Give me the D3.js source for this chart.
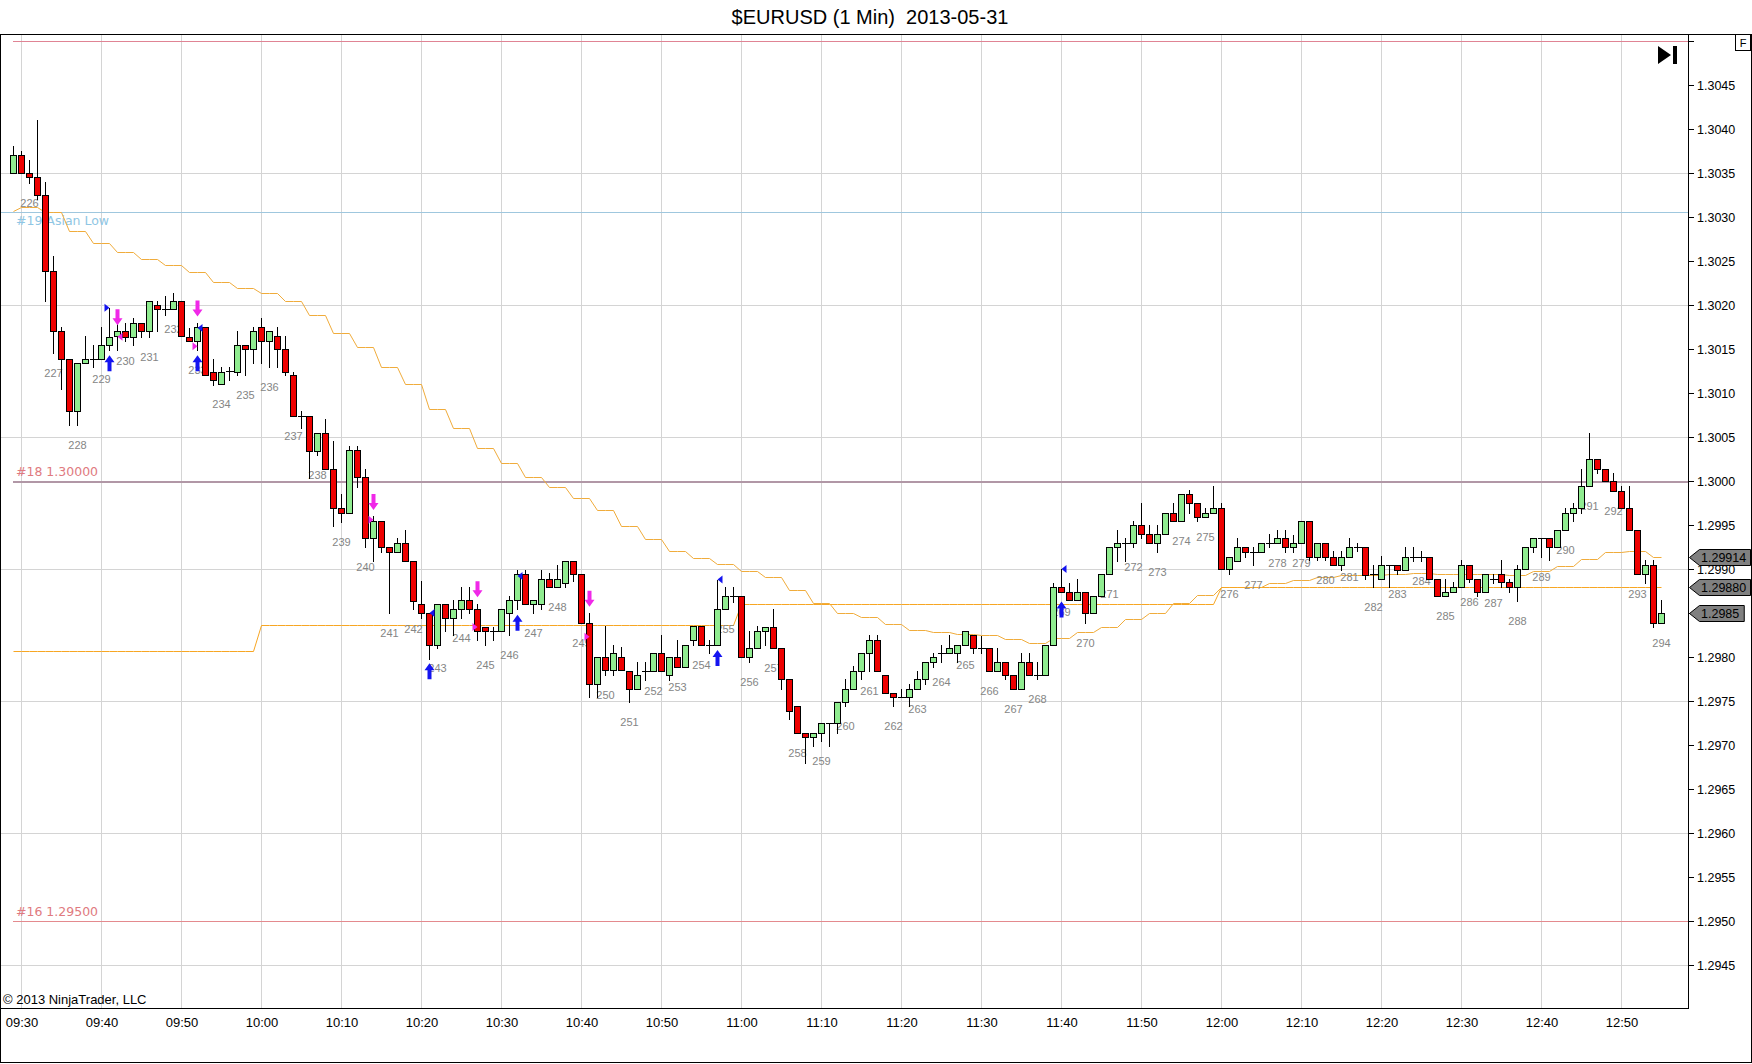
<!DOCTYPE html>
<html>
<head>
<meta charset="utf-8">
<script src="https://cdn.jsdelivr.net/npm/d3@7"></script>
<style>
  body { margin: 0; background: #fff; }
  svg { display: block; }
</style>
</head>
<body>
<div id="chart"></div>
<script>
const width = 1752;
const height = 1064;

// 1 minute bars, 09:29 .. 12:55
const opens = [
  1.30350,1.30370,1.30350,1.30345,1.30325,1.30239,1.30170,1.30139,1.30079,1.30134,
  1.30139,1.30139,1.30154,1.30165,1.30170,1.30164,1.30179,1.30170,1.30200,1.30195,
  1.30195,1.30204,1.30164,1.30159,1.30175,1.30124,1.30110,1.30125,1.30124,1.30155,
  1.30150,1.30175,1.30159,1.30165,1.30150,1.30120,1.30074,1.30074,1.30034,1.30054,
  1.30014,1.29969,1.29964,1.30035,1.30004,1.29935,1.29954,1.29925,1.29919,1.29929,
  1.29909,1.29860,1.29850,1.29814,1.29860,1.29844,1.29854,1.29865,1.29854,1.29834,
  1.29830,1.29830,1.29850,1.29865,1.29894,1.29860,1.29860,1.29889,1.29879,1.29884,
  1.29909,1.29894,1.29839,1.29769,1.29800,1.29785,1.29800,1.29784,1.29764,1.29784,
  1.29784,1.29804,1.29780,1.29800,1.29789,1.29819,1.29835,1.29814,1.29814,1.29854,
  1.29869,1.29869,1.29800,1.29810,1.29829,1.29834,1.29810,1.29775,1.29744,1.29714,
  1.29709,1.29714,1.29725,1.29725,1.29749,1.29764,1.29784,1.29804,1.29819,1.29779,
  1.29759,1.29754,1.29754,1.29764,1.29775,1.29794,1.29804,1.29804,1.29804,1.29814,
  1.29825,1.29810,1.29810,1.29784,1.29794,1.29779,1.29764,1.29794,1.29779,1.29779,
  1.29814,1.29879,1.29874,1.29865,1.29874,1.29850,1.29869,1.29894,1.29925,1.29929,
  1.29929,1.29950,1.29940,1.29929,1.29940,1.29964,1.29955,1.29985,1.29975,1.29959,
  1.29964,1.29969,1.29900,1.29909,1.29925,1.29919,1.29919,1.29929,1.29929,1.29935,
  1.29925,1.29929,1.29954,1.29914,1.29929,1.29914,1.29905,1.29914,1.29925,1.29925,
  1.29894,1.29889,1.29904,1.29904,1.29899,1.29914,1.29914,1.29914,1.29889,1.29869,
  1.29874,1.29879,1.29904,1.29889,1.29874,1.29889,1.29894,1.29885,1.29879,1.29900,
  1.29925,1.29935,1.29935,1.29925,1.29944,1.29964,1.29969,1.29994,1.30025,1.30014,
  1.30000,1.29989,1.29969,1.29944,1.29894,1.29905,1.29839
];
const highs = [
  1.30381,1.30375,1.30365,1.30410,1.30340,1.30256,1.30175,1.30139,1.30134,1.30165,
  1.30155,1.30175,1.30197,1.30183,1.30179,1.30185,1.30179,1.30204,1.30204,1.30210,
  1.30214,1.30204,1.30174,1.30179,1.30175,1.30139,1.30129,1.30130,1.30170,1.30155,
  1.30175,1.30185,1.30170,1.30175,1.30165,1.30124,1.30079,1.30074,1.30054,1.30070,
  1.30045,1.29985,1.30040,1.30040,1.30014,1.29960,1.29954,1.29925,1.29935,1.29944,
  1.29909,1.29886,1.29850,1.29860,1.29860,1.29865,1.29879,1.29879,1.29860,1.29834,
  1.29834,1.29854,1.29869,1.29899,1.29899,1.29865,1.29899,1.29895,1.29905,1.29909,
  1.29909,1.29894,1.29850,1.29800,1.29835,1.29814,1.29811,1.29784,1.29794,1.29794,
  1.29804,1.29825,1.29800,1.29819,1.29814,1.29835,1.29835,1.29819,1.29888,1.29879,
  1.29879,1.29869,1.29830,1.29835,1.29834,1.29854,1.29810,1.29775,1.29744,1.29714,
  1.29714,1.29725,1.29725,1.29749,1.29775,1.29790,1.29804,1.29825,1.29825,1.29779,
  1.29759,1.29764,1.29769,1.29784,1.29794,1.29804,1.29814,1.29825,1.29814,1.29829,
  1.29825,1.29824,1.29810,1.29810,1.29794,1.29779,1.29804,1.29804,1.29794,1.29814,
  1.29884,1.29900,1.29884,1.29889,1.29874,1.29869,1.29894,1.29925,1.29944,1.29935,
  1.29955,1.29975,1.29950,1.29950,1.29964,1.29975,1.29985,1.29990,1.29975,1.29969,
  1.29994,1.29975,1.29914,1.29935,1.29925,1.29925,1.29929,1.29940,1.29944,1.29944,
  1.29939,1.29954,1.29954,1.29929,1.29929,1.29920,1.29920,1.29935,1.29930,1.29925,
  1.29905,1.29915,1.29904,1.29904,1.29925,1.29925,1.29920,1.29914,1.29889,1.29889,
  1.29885,1.29910,1.29904,1.29889,1.29894,1.29894,1.29910,1.29889,1.29905,1.29925,
  1.29935,1.29935,1.29935,1.29944,1.29969,1.29975,1.30014,1.30055,1.30025,1.30014,
  1.30009,1.29994,1.29994,1.29944,1.29910,1.29910,1.29865
];
const lows = [
  1.30350,1.30350,1.30339,1.30320,1.30204,1.30145,1.30104,1.30064,1.30064,1.30134,
  1.30129,1.30139,1.30149,1.30149,1.30159,1.30154,1.30164,1.30164,1.30170,1.30189,
  1.30195,1.30165,1.30159,1.30149,1.30120,1.30109,1.30110,1.30115,1.30120,1.30120,
  1.30134,1.30134,1.30129,1.30129,1.30120,1.30074,1.30060,1.30003,1.30030,1.30014,
  1.29949,1.29953,1.29964,1.29993,1.29925,1.29909,1.29919,1.29850,1.29919,1.29909,
  1.29854,1.29844,1.29798,1.29810,1.29829,1.29825,1.29844,1.29850,1.29819,1.29814,
  1.29819,1.29830,1.29825,1.29854,1.29860,1.29850,1.29854,1.29879,1.29879,1.29879,
  1.29886,1.29839,1.29754,1.29754,1.29780,1.29780,1.29785,1.29749,1.29764,1.29774,
  1.29784,1.29784,1.29774,1.29789,1.29789,1.29814,1.29814,1.29804,1.29814,1.29854,
  1.29863,1.29800,1.29794,1.29810,1.29814,1.29810,1.29764,1.29729,1.29714,1.29679,
  1.29699,1.29705,1.29699,1.29714,1.29744,1.29764,1.29775,1.29784,1.29784,1.29759,
  1.29744,1.29754,1.29744,1.29764,1.29769,1.29789,1.29794,1.29804,1.29794,1.29814,
  1.29804,1.29804,1.29784,1.29784,1.29775,1.29764,1.29764,1.29779,1.29775,1.29779,
  1.29814,1.29874,1.29865,1.29865,1.29839,1.29850,1.29869,1.29894,1.29909,1.29909,
  1.29925,1.29935,1.29929,1.29919,1.29940,1.29955,1.29955,1.29964,1.29955,1.29959,
  1.29964,1.29900,1.29894,1.29909,1.29914,1.29904,1.29919,1.29925,1.29929,1.29919,
  1.29919,1.29929,1.29910,1.29910,1.29910,1.29905,1.29899,1.29914,1.29920,1.29889,
  1.29880,1.29889,1.29880,1.29894,1.29899,1.29909,1.29909,1.29889,1.29869,1.29869,
  1.29874,1.29879,1.29885,1.29869,1.29874,1.29884,1.29880,1.29874,1.29864,1.29900,
  1.29919,1.29914,1.29910,1.29925,1.29944,1.29954,1.29964,1.29994,1.30009,1.30000,
  1.29989,1.29969,1.29944,1.29894,1.29884,1.29834,1.29839
];
const closes = [
  1.30370,1.30350,1.30345,1.30325,1.30239,1.30170,1.30139,1.30079,1.30134,1.30139,
  1.30139,1.30154,1.30164,1.30170,1.30164,1.30179,1.30170,1.30204,1.30195,1.30195,
  1.30204,1.30165,1.30159,1.30175,1.30120,1.30115,1.30124,1.30125,1.30155,1.30150,
  1.30170,1.30159,1.30170,1.30150,1.30124,1.30074,1.30074,1.30034,1.30054,1.30014,
  1.29969,1.29964,1.30035,1.30004,1.29935,1.29954,1.29925,1.29919,1.29929,1.29909,
  1.29864,1.29850,1.29814,1.29860,1.29844,1.29854,1.29865,1.29854,1.29830,1.29830,
  1.29830,1.29854,1.29865,1.29894,1.29860,1.29865,1.29889,1.29879,1.29889,1.29909,
  1.29894,1.29839,1.29769,1.29800,1.29785,1.29804,1.29785,1.29764,1.29780,1.29784,
  1.29804,1.29784,1.29800,1.29789,1.29814,1.29835,1.29814,1.29814,1.29854,1.29869,
  1.29869,1.29800,1.29810,1.29829,1.29834,1.29810,1.29775,1.29739,1.29714,1.29709,
  1.29714,1.29725,1.29725,1.29749,1.29764,1.29784,1.29804,1.29819,1.29784,1.29759,
  1.29754,1.29754,1.29764,1.29775,1.29794,1.29800,1.29804,1.29810,1.29814,1.29829,
  1.29810,1.29810,1.29784,1.29794,1.29779,1.29764,1.29794,1.29779,1.29779,1.29814,
  1.29879,1.29874,1.29865,1.29874,1.29850,1.29869,1.29894,1.29925,1.29929,1.29929,
  1.29950,1.29940,1.29929,1.29940,1.29964,1.29955,1.29985,1.29975,1.29959,1.29964,
  1.29969,1.29900,1.29914,1.29925,1.29919,1.29919,1.29929,1.29929,1.29935,1.29925,
  1.29929,1.29954,1.29914,1.29929,1.29914,1.29905,1.29914,1.29925,1.29925,1.29893,
  1.29894,1.29905,1.29904,1.29899,1.29914,1.29914,1.29914,1.29889,1.29869,1.29874,
  1.29879,1.29904,1.29889,1.29874,1.29894,1.29889,1.29885,1.29879,1.29900,1.29925,
  1.29935,1.29935,1.29925,1.29944,1.29964,1.29969,1.29994,1.30025,1.30014,1.30000,
  1.29989,1.29969,1.29944,1.29894,1.29905,1.29839,1.29850
];

// stepped average: first bar, then one value per 3 bars
const stepLine = [
  1.30307,1.30311,1.30306,1.30284,1.30270,1.30260,1.30252,1.30246,1.30238,1.30226,
  1.30219,1.30214,1.30205,1.30189,1.30168,1.30152,1.30130,1.30110,1.30082,1.30060,
  1.30038,1.30021,1.30005,1.29993,1.29981,1.29967,1.29949,1.29934,1.29920,1.29912,
  1.29906,1.29898,1.29891,1.29876,1.29861,1.29850,1.29846,1.29837,1.29831,1.29828,
  1.29826,1.29825,1.29820,1.29816,1.29822,1.29828,1.29834,1.29843,1.29850,1.29861,
  1.29870,1.29879,1.29880,1.29884,1.29887,1.29891,1.29893,1.29893,1.29894,1.29896,
  1.29894,1.29894,1.29894,1.29893,1.29898,1.29903,1.29911,1.29919,1.29921,1.29914
];

// second orange line: value changes at these bars
const levelBars = [0, 31, 91, 151];
const levelValues = [1.29807, 1.29836, 1.29860, 1.29880];

// horizontal price levels
const linePrices = [1.30500, 1.30306, 1.30000, 1.29500];
const lineNames = ["", "#19 Asian Low", "#18 1.30000", "#16 1.29500"];

const priceTicks = [1.2945,1.2950,1.2955,1.2960,1.2965,1.2970,1.2975,1.2980,1.2985,1.2990,
  1.2995,1.3000,1.3005,1.3010,1.3015,1.3020,1.3025,1.3030,1.3035,1.3040,1.3045,1.3050];
const gridPrices = [1.2945,1.2960,1.2975,1.2990,1.3005,1.3020,1.3035];

const firstLabel = 226;

// trade markers (bar index, price)
const downArrowBars = [13, 23, 45, 58, 72];
const downArrowPrices = [1.30177, 1.30187, 1.29967, 1.29868, 1.29857];
const upArrowBars = [12, 23, 52, 63, 88, 131];
const upArrowPrices = [1.30143, 1.30143, 1.29793, 1.29848, 1.29808, 1.29863];
const blueFlagBars = [12, 23, 52, 63, 88, 131];
const blueFlagPrices = [1.30197, 1.30174, 1.29850, 1.29892, 1.29888, 1.29900];
const blueFlagDirs = [1, -1, -1, -1, -1, -1];
const pinkFlagBars = [13, 23, 45, 58, 72];
const pinkFlagPrices = [1.30164, 1.30153, 1.29956, 1.29834, 1.29823];
const pinkFlagDirs = [-1, 1, 1, 1, 1];

const plotRight = 1688;
const plotTop = 34;
const plotBottom = 1008;
const sans = '"Liberation Sans", Arial, sans-serif';

const t0 = new Date(2013, 4, 31, 9, 29);
const barTime = i => d3.timeMinute.offset(t0, i);
const n = opens.length;

const x = d3.scaleTime()
  .domain([t0, barTime(n - 1)])
  .range([13.5, 13.5 + 8 * (n - 1)]);
const y = d3.scaleLinear()
  .domain([1.2945, 1.3045])
  .range([965, 85]);
const cx = i => x(barTime(i));
const crisp = v => Math.round(v) + 0.5;

const svg = d3.select("#chart")
  .append("svg")
  .attr("width", width)
  .attr("height", height)
  .style("font-family", sans);

svg.append("rect").attr("width", width).attr("height", height).attr("fill", "#fff");

// title
svg.append("text")
  .attr("x", 870)
  .attr("y", 24)
  .attr("text-anchor", "middle")
  .attr("font-size", 20)
  .style("white-space", "pre")
  .text("$EURUSD (1 Min)  2013-05-31");

// === Grid ===
const grid = svg.append("g").attr("shape-rendering", "crispEdges");
grid.selectAll("line.v")
  .data(x.ticks(d3.timeMinute.every(10)))
  .join("line")
  .attr("class", "v")
  .attr("x1", d => crisp(x(d) - 0.5)).attr("x2", d => crisp(x(d) - 0.5))
  .attr("y1", plotTop).attr("y2", plotBottom)
  .attr("stroke", "#d4d4d4");
grid.selectAll("line.h")
  .data(gridPrices)
  .join("line")
  .attr("class", "h")
  .attr("x1", 1).attr("x2", plotRight)
  .attr("y1", d => crisp(y(d))).attr("y2", d => crisp(y(d)))
  .attr("stroke", "#d4d4d4");

// === Price level lines ===
const lineColors = ["#e08494", "#9fc7de", "#b197a6", "#e48a8e"];
const lineWidths = [1, 1, 2, 1];
const lineStarts = [13, 1, 13, 13];
svg.selectAll("line.level")
  .data(linePrices)
  .join("line")
  .attr("class", "level")
  .attr("x1", (d, i) => lineStarts[i]).attr("x2", plotRight)
  .attr("y1", d => crisp(y(d))).attr("y2", d => crisp(y(d)))
  .attr("stroke", (d, i) => lineColors[i])
  .attr("stroke-width", (d, i) => lineWidths[i])
  .attr("shape-rendering", "crispEdges");
svg.selectAll("text.level")
  .data(linePrices)
  .join("text")
  .attr("class", "level")
  .attr("x", 16)
  .attr("y", (d, i) => i === 1 ? y(d) + 13 : y(d) - 5)
  .attr("font-family", '"DejaVu Sans", Verdana, sans-serif')
  .attr("font-size", 12.5)
  .attr("fill", (d, i) => i === 1 ? "#8fc6e4" : "#e07a80")
  .text((d, i) => lineNames[i]);

// === Orange lines ===
const bars = d3.range(n);
const stepAt = i => stepLine[Math.ceil(i / 3)];
const levelAt = i => levelValues[d3.bisectRight(levelBars, i) - 1];

svg.append("path")
  .datum(bars)
  .attr("fill", "none")
  .attr("stroke", "#f0ac3c")
  .attr("stroke-width", 1)
  .attr("d", d3.line().x(cx).y(i => crisp(y(stepAt(i)))));
svg.append("path")
  .datum(bars)
  .attr("fill", "none")
  .attr("stroke", "#f7a623")
  .attr("stroke-width", 1)
  .attr("d", d3.line().x(cx).y(i => crisp(y(levelAt(i)))));

// === Bar count labels (every 3rd bar) ===
const labelBars = d3.range(2, n, 3);
svg.selectAll("text.count")
  .data(labelBars)
  .join("text")
  .attr("class", "count")
  .attr("x", cx)
  .attr("y", i => y(lows[i]) + 24)
  .attr("text-anchor", "middle")
  .attr("font-size", 11)
  .attr("fill", "#858585")
  .text((i, k) => firstLabel + k);

// === Candles ===
const candles = svg.append("g")
  .selectAll("g.bar")
  .data(bars)
  .join("g")
  .attr("class", "bar")
  .attr("shape-rendering", "crispEdges");

candles.append("line")
  .attr("x1", cx).attr("x2", cx)
  .attr("y1", i => Math.round(y(highs[i])))
  .attr("y2", i => Math.round(y(lows[i])) + 1)
  .attr("stroke", "#000");

candles.each(function (i) {
  const g = d3.select(this);
  const top = crisp(y(Math.max(opens[i], closes[i])));
  const bot = crisp(y(Math.min(opens[i], closes[i])));
  if (bot - top < 1) {
    g.append("line")
      .attr("x1", cx(i) - 4).attr("x2", cx(i) + 4)
      .attr("y1", top).attr("y2", top)
      .attr("stroke", "#000");
  } else {
    g.append("rect")
      .attr("x", cx(i) - 3)
      .attr("y", top)
      .attr("width", 6)
      .attr("height", bot - top)
      .attr("fill", closes[i] >= opens[i] ? "#90ec90" : "#ee0000")
      .attr("stroke", "#000");
  }
});

// === Trade markers ===
function arrowPath(xc, tip, dir) {
  // dir = 1 points down, -1 points up
  const s = -dir;
  return `M${xc - 2},${tip + s * 16} L${xc + 2},${tip + s * 16} L${xc + 2},${tip + s * 7}` +
    ` L${xc + 5},${tip + s * 7} L${xc},${tip} L${xc - 5},${tip + s * 7} L${xc - 2},${tip + s * 7} Z`;
}
function flagPath(xc, yc, dir) {
  return `M${xc},${yc} L${xc - dir * 5},${yc - 4} L${xc - dir * 5},${yc + 4} Z`;
}

svg.selectAll("path.down")
  .data(downArrowBars)
  .join("path")
  .attr("class", "down")
  .attr("d", (b, k) => arrowPath(cx(b), y(downArrowPrices[k]), 1))
  .attr("fill", "#f028e8");
svg.selectAll("path.up")
  .data(upArrowBars)
  .join("path")
  .attr("class", "up")
  .attr("d", (b, k) => arrowPath(cx(b), y(upArrowPrices[k]), -1))
  .attr("fill", "#1414f0");
svg.selectAll("path.bflag")
  .data(blueFlagBars)
  .join("path")
  .attr("class", "bflag")
  .attr("d", (b, k) => flagPath(cx(b), y(blueFlagPrices[k]), blueFlagDirs[k]))
  .attr("fill", "#1414f0");
svg.selectAll("path.pflag")
  .data(pinkFlagBars)
  .join("path")
  .attr("class", "pflag")
  .attr("d", (b, k) => flagPath(cx(b), y(pinkFlagPrices[k]), pinkFlagDirs[k]))
  .attr("fill", "#f028e8");

// === Axes ===
const fmt4 = d3.format(".4f");
const yAxis = d3.axisRight(y)
  .tickValues(priceTicks)
  .tickSize(6)
  .tickPadding(3)
  .tickFormat(d => d > 1.30455 ? "" : fmt4(d));
svg.append("g")
  .attr("transform", `translate(${plotRight},0)`)
  .call(yAxis)
  .call(g => g.select(".domain").remove())
  .call(g => g.selectAll("text").attr("font-size", 12.5).attr("font-family", sans).attr("fill", "#000"))
  .call(g => g.selectAll("line").attr("stroke", "#000"));

const xAxis = d3.axisBottom(x)
  .ticks(d3.timeMinute.every(10))
  .tickFormat(d3.timeFormat("%H:%M"))
  .tickSize(0)
  .tickPadding(10);
svg.append("g")
  .attr("transform", `translate(0,${plotBottom})`)
  .call(xAxis)
  .call(g => g.select(".domain").remove())
  .call(g => g.selectAll("text").attr("font-size", 13).attr("font-family", sans).attr("fill", "#000"));

// frame and axis lines
const frame = svg.append("g").attr("shape-rendering", "crispEdges").attr("stroke", "#000").attr("fill", "none");
frame.append("rect").attr("x", 0.5).attr("y", plotTop + 0.5).attr("width", width - 1).attr("height", height - plotTop - 2);
frame.append("line").attr("x1", 0).attr("x2", plotRight + 1).attr("y1", plotBottom + 0.5).attr("y2", plotBottom + 0.5);
frame.append("line").attr("x1", plotRight + 0.5).attr("x2", plotRight + 0.5).attr("y1", plotTop).attr("y2", plotBottom + 1);

svg.append("text")
  .attr("x", 3)
  .attr("y", 1004)
  .attr("font-size", 13)
  .text("\u00a9 2013 NinjaTrader, LLC");

// "go to end" icon and F box
svg.append("path")
  .attr("d", "M1658,46 L1671,55 L1658,64 Z M1673,46 H1677 V64 H1673 Z")
  .attr("fill", "#000");
svg.append("rect")
  .attr("x", 1735.5).attr("y", 34.5).attr("width", 15).attr("height", 16)
  .attr("fill", "#fff").attr("stroke", "#000");
svg.append("text")
  .attr("x", 1743).attr("y", 47)
  .attr("text-anchor", "middle")
  .attr("font-size", 11)
  .text("F");

// === Price markers on the axis ===
const markerValues = [stepLine[stepLine.length - 1], levelValues[levelValues.length - 1], closes[n - 1]];
const markerFormats = [".5f", ".5f", ".4f"];
markerValues.forEach((v, k) => {
  const yc = Math.round(y(v)) + 0.5;
  const g = svg.append("g");
  const path = g.append("path");
  const txt = g.append("text")
    .attr("x", 1701)
    .attr("y", yc + 4.5)
    .attr("font-size", 12.5)
    .attr("fill", "#000")
    .text(d3.format(markerFormats[k])(v));
  const right = Math.min(1750.5, 1701 + txt.node().getComputedTextLength() + 5);
  path.attr("d", `M1689.5,${yc} L1699.5,${yc - 8} L${right},${yc - 8} L${right},${yc + 8} L1699.5,${yc + 8} Z`)
    .attr("fill", "#808080")
    .attr("stroke", "#000");
});
</script>
</body>
</html>
